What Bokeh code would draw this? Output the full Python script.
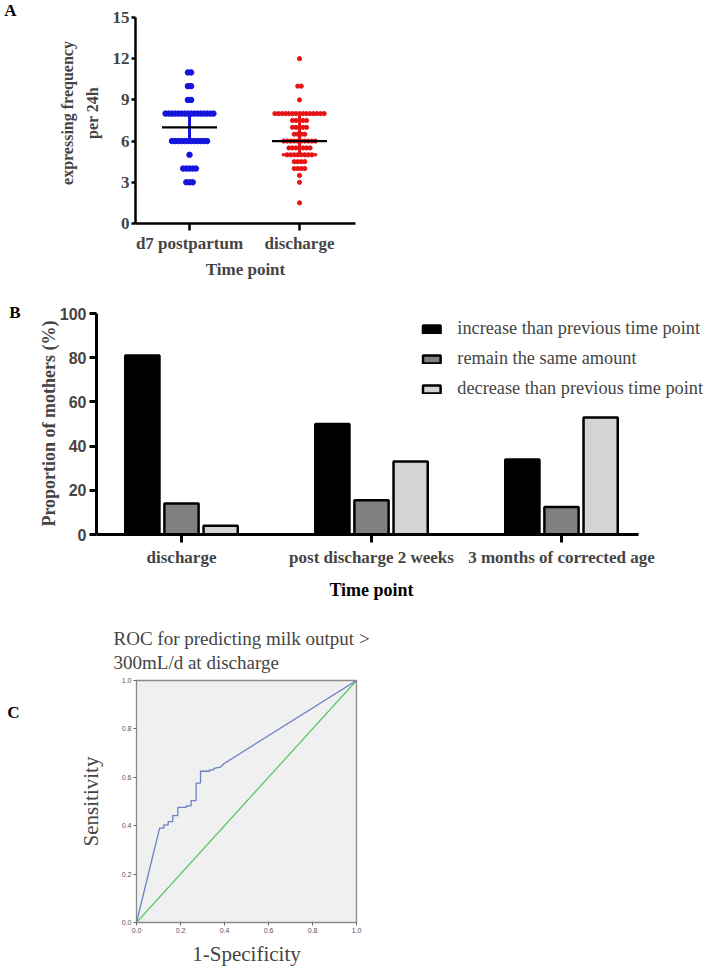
import numpy as np
from bokeh.plotting import figure
from bokeh.layouts import column
from bokeh.models import (Range1d, FixedTicker, Legend, LegendItem, NumeralTickFormatter,
                          LinearAxis)
from bokeh.embed import file_html
from bokeh.resources import INLINE

# ---------------- data ----------------
# Panel A: expressing frequency per 24h (value -> number of mothers)
a_groups = ["d7 postpartum", "discharge"]
a_positions = [1, 2]
d7_values = [11, 10, 9, 8, 6, 5, 4, 3]
d7_counts = [2, 2, 2, 16, 12, 1, 5, 3]
dis_values = [12, 10, 9, 8, 7.5, 7, 6.5, 6, 5.5, 5, 4.5, 4, 3.5, 3, 1.5]
dis_counts = [1, 2, 1, 15, 5, 5, 4, 10, 7, 8, 4, 4, 1, 1, 1]
a_center = [7, 6]
a_low = [6, 5]
a_high = [8, 8]
a_yticks = [0, 3, 6, 9, 12, 15]

# Panel B: proportion of mothers (%)
b_timepoints = ["discharge", "post discharge 2 weeks", "3 months of corrected age"]
b_series = ["increase than previous time point", "remain the same amount",
            "decrease than previous time point"]
b_increase = [81, 50, 34]
b_same = [14, 15.5, 12.5]
b_decrease = [4, 33, 53]
b_yticks = [0, 20, 40, 60, 80, 100]

# Panel C: ROC curve
roc_fpr = [0.0, 0.105, 0.124, 0.124, 0.144, 0.144, 0.165, 0.165, 0.188, 0.188,
           0.227, 0.227, 0.248, 0.248, 0.271, 0.271, 0.291, 0.291, 0.332, 0.332,
           0.352, 0.352, 0.382, 0.397, 1.0]
roc_tpr = [0.0, 0.39, 0.39, 0.403, 0.403, 0.417, 0.417, 0.442, 0.442, 0.476,
           0.476, 0.482, 0.482, 0.504, 0.504, 0.576, 0.576, 0.625, 0.625, 0.631,
           0.631, 0.637, 0.642, 0.656, 1.0]
ref_fpr = [0.0, 1.0]
ref_tpr = [0.0, 1.0]
c_ticks = [0.0, 0.2, 0.4, 0.6, 0.8, 1.0]

SERIF = "Liberation Serif"
SANS = "Liberation Sans"


def spread(center, values, counts, step):
    xs, ys = [], []
    for v, n in zip(values, counts):
        offs = (np.arange(n) - (n - 1) / 2.0) * step
        xs.extend([float(center + o) for o in offs])
        ys.extend([v] * n)
    return xs, ys


def clean(p):
    p.grid.visible = False
    p.outline_line_color = None
    p.background_fill_color = "white"
    p.border_fill_color = "white"
    try:
        p.frame_align = False
    except Exception:
        pass


def letter_axis(p, pos, text, standoff, place="left", size="17px", style="bold"):
    ax = LinearAxis(ticker=FixedTicker(ticks=[pos]), major_label_overrides={pos: text},
                    axis_line_color=None, major_tick_line_color=None, minor_tick_line_color=None,
                    major_label_standoff=standoff, major_label_text_font=SERIF,
                    major_label_text_font_style=style, major_label_text_font_size=size,
                    major_label_text_color="black")
    p.add_layout(ax, place)
    return ax


# ---------------- Panel A ----------------
pa = figure(frame_width=220, frame_height=221, output_backend="svg", toolbar_location=None,
            x_range=Range1d(0.509, 2.509), y_range=Range1d(0, 16.09),
            min_border_left=135, min_border_right=354, min_border_top=2, min_border_bottom=65)
clean(pa)

bx, by = spread(a_positions[0], d7_values, d7_counts, 0.029)
rx, ry = spread(a_positions[1], dis_values, dis_counts, 0.032)
pa.scatter(bx, by, size=5.5, color="#1414dc")
pa.scatter(rx, ry, size=4.2, color="#e61414")

a_colors = ["#1414dc", "#e61414"]
for xc, lo, hi, col in zip(a_positions, a_low, a_high, a_colors):
    pa.segment(x0=[xc], y0=[lo], x1=[xc], y1=[hi], line_color=col, line_width=3)
    pa.segment(x0=[xc - 0.16, xc - 0.16], y0=[lo, hi], x1=[xc + 0.16, xc + 0.16], y1=[lo, hi],
               line_color=col, line_width=3)
pa.segment(x0=[x - 0.25 for x in a_positions], y0=a_center,
           x1=[x + 0.25 for x in a_positions], y1=a_center, line_color="black", line_width=2.2)

pa.yaxis.ticker = FixedTicker(ticks=a_yticks)
pa.yaxis.bounds = (0, 15)
pa.xaxis.ticker = FixedTicker(ticks=a_positions)
pa.xaxis.major_label_overrides = {k: v for k, v in zip(a_positions, a_groups)}
pa.xaxis.axis_label = "Time point"
pa.yaxis.axis_label = "expressing frequency\nper 24h"
for ax in (pa.xaxis, pa.yaxis):
    ax.axis_line_width = 2.5
    ax.axis_line_color = "black"
    ax.major_tick_line_width = 2.5
    ax.major_tick_in = 0
    ax.minor_tick_out = 0
    ax.minor_tick_in = 0
    ax.major_label_text_font = SERIF
    ax.major_label_text_font_style = "bold"
    ax.major_label_text_font_size = "17px"
    ax.axis_label_text_font = SERIF
    ax.axis_label_text_font_style = "bold"
    ax.axis_label_text_font_size = "17px"
pa.yaxis.axis_label_text_font_size = "16px"
pa.yaxis.axis_label_text_line_height = 1.45
pa.yaxis.major_tick_out = 4
pa.yaxis.major_label_standoff = 2
pa.yaxis.axis_label_standoff = 9
pa.xaxis.major_tick_out = 7
pa.xaxis.major_label_standoff = 3
pa.xaxis.axis_label_standoff = 4
letter_axis(pa, 15.6, "A", 33)

# ---------------- Panel B ----------------
pb = figure(frame_width=613, frame_height=222, output_backend="svg", toolbar_location=None,
            x_range=Range1d(0.5526, 3.779), y_range=Range1d(0, 100.5),
            min_border_left=96, min_border_right=0, min_border_top=24, min_border_bottom=71)
clean(pb)
b_pos = np.array([1, 2, 3])
b_vals = [b_increase, b_same, b_decrease]
b_fills = ["#000000", "#808080", "#d4d4d4"]
b_offsets = [-0.206, 0.0, 0.206]
renderers = []
for vals, fill, off in zip(b_vals, b_fills, b_offsets):
    r = pb.vbar(x=[float(v) for v in b_pos + off], top=vals, width=0.18, bottom=0,
                fill_color=fill, line_color="black", line_width=2.5)
    renderers.append(r)

pb.xaxis.ticker = FixedTicker(ticks=[1, 2, 3])
pb.xaxis.major_label_overrides = {int(k): v for k, v in zip(b_pos, b_timepoints)}
pb.yaxis.ticker = FixedTicker(ticks=b_yticks)
pb.xaxis.bounds = (0.5526, 3.405)
pb.yaxis.bounds = (0, 100)
pb.yaxis.axis_label = "Proportion of mothers (%)"
for ax in (pb.xaxis, pb.yaxis):
    ax.axis_line_width = 3
    ax.axis_line_color = "black"
    ax.major_tick_line_width = 3
    ax.major_tick_in = 0
    ax.minor_tick_out = 0
    ax.minor_tick_in = 0
    ax.axis_label_text_font = SERIF
    ax.axis_label_text_font_style = "bold"
    ax.axis_label_text_font_size = "18px"
pb.xaxis.major_label_text_font = SERIF
pb.xaxis.major_label_text_font_style = "bold"
pb.xaxis.major_label_text_font_size = "17px"
pb.xaxis.major_tick_out = 8
pb.xaxis.major_label_standoff = 5
pb.yaxis.major_label_text_font = SANS
pb.yaxis.major_label_text_font_style = "bold"
pb.yaxis.major_label_text_font_size = "16px"
pb.yaxis.major_tick_out = 7
pb.yaxis.major_label_standoff = 3
pb.yaxis.axis_label_standoff = -2
letter_axis(pb, 2, "Time point", 4, place="below", size="18px")
letter_axis(pb, 100.4, "B", 9)

legend = Legend(items=[LegendItem(label=s, renderers=[r]) for s, r in zip(b_series, renderers)],
                location="top_right", margin=6, padding=16, spacing=9,
                glyph_width=22, glyph_height=10, label_standoff=15, label_width=240,
                label_text_font=SERIF, label_text_font_size="18.3px",
                border_line_color=None, background_fill_alpha=0)
pb.add_layout(legend)

# ---------------- Panel C ----------------
pc = figure(frame_width=220, frame_height=242, output_backend="svg", toolbar_location=None,
            x_range=Range1d(0, 1), y_range=Range1d(0, 1),
            min_border_left=136, min_border_right=353, min_border_top=75, min_border_bottom=44)
pc.grid.visible = False
try:
    pc.frame_align = False
except Exception:
    pass
pc.background_fill_color = "#f0f0f0"
pc.border_fill_color = "white"
pc.outline_line_color = "#8a8a8a"
pc.outline_line_width = 1.3
pc.line(ref_fpr, ref_tpr, line_color="#5ec86a", line_width=1.3)
pc.line(roc_fpr, roc_tpr, line_color="#6a80c8", line_width=1.3)
for ax in (pc.xaxis, pc.yaxis):
    ax.ticker = FixedTicker(ticks=c_ticks)
    ax.formatter = NumeralTickFormatter(format="0.0")
    ax.axis_line_color = None
    ax.major_tick_line_color = "#666666"
    ax.major_tick_out = 3
    ax.major_tick_in = 0
    ax.minor_tick_out = 0
    ax.minor_tick_in = 0
    ax.major_label_text_font = SANS
    ax.major_label_text_font_size = "7px"
    ax.major_label_text_color = "#555555"
    ax.major_label_standoff = 2
    ax.axis_label_text_font = SERIF
    ax.axis_label_text_font_style = "normal"
    ax.axis_label_text_font_size = "21px"
pc.xaxis.axis_label = "1-Specificity"
pc.yaxis.axis_label = "Sensitivity"
pc.xaxis.axis_label_standoff = 6
pc.yaxis.axis_label_standoff = 16
letter_axis(pc, 0.868, "C", 50)

pc.title.text = "ROC for predicting milk output >\n300mL/d at discharge"
pc.title.align = "left"
pc.title.offset = -23
pc.title.standoff = 14
pc.title.text_font = SERIF
pc.title.text_font_style = "normal"
pc.title.text_font_size = "19px"
pc.title.text_line_height = 1.15

layout = column(pa, pb, pc, spacing=0)
open("out.html", "w").write(file_html(layout, INLINE))
